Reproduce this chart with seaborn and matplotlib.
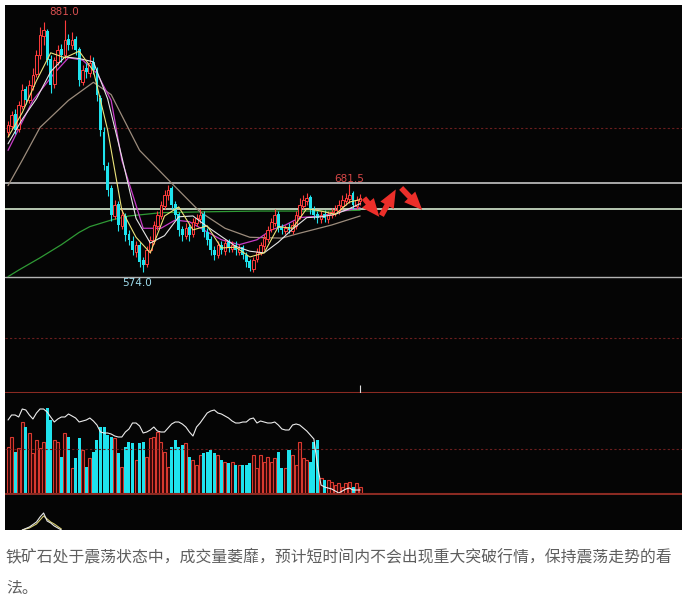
import numpy as np
import pandas as pd
import matplotlib
matplotlib.use("Agg")
import matplotlib.pyplot as plt
import seaborn as sns

# daily candles (price units)
OPEN = [745, 752, 766, 748, 776, 797, 784, 800, 815, 838,
        862, 868, 833, 803, 830, 846, 838, 858, 850, 858,
        846, 806, 822, 816, 830, 821, 786, 745, 703, 676,
        642, 656, 630, 642, 620, 612, 598, 606, 588, 584,
        601, 612, 630, 642, 654, 668, 676, 656, 644, 626,
        618, 628, 620, 634, 638, 645, 623, 614, 601, 595,
        607, 599, 610, 602, 607, 598, 604, 595, 587, 577,
        589, 597, 605, 614, 626, 634, 645, 628, 624, 628,
        624, 630, 642, 654, 660, 665, 650, 644, 638, 644,
        638, 643, 646, 648, 654, 660, 663, 670, 654, 660]
CLOSE = [753, 765, 747, 777, 796, 783, 802, 814, 838, 863,
         869, 832, 802, 832, 844, 838, 857, 851, 857, 844,
         808, 820, 817, 829, 820, 789, 747, 704, 674, 643,
         655, 631, 643, 619, 613, 600, 606, 586, 582, 600,
         613, 631, 643, 655, 668, 674, 655, 643, 625, 619,
         627, 619, 635, 639, 643, 622, 613, 600, 594, 606,
         600, 609, 603, 606, 600, 603, 594, 586, 578, 588,
         598, 606, 615, 625, 635, 643, 627, 625, 627, 625,
         631, 643, 655, 661, 664, 649, 643, 639, 643, 639,
         643, 647, 649, 655, 661, 664, 668, 655, 661, 664]
HIGH = [758, 770, 772, 782, 803, 800, 808, 822, 845, 872,
        878, 870, 838, 836, 850, 852, 881, 864, 866, 862,
        848, 826, 828, 838, 836, 824, 790, 750, 708, 680,
        662, 660, 650, 646, 625, 618, 612, 610, 592, 605,
        618, 636, 648, 660, 674, 680, 678, 660, 647, 630,
        633, 632, 640, 645, 650, 648, 627, 618, 605, 611,
        612, 614, 614, 611, 611, 608, 607, 598, 590, 592,
        603, 610, 620, 630, 640, 650, 648, 632, 631, 633,
        636, 648, 664, 668, 670, 668, 654, 648, 648, 649,
        648, 652, 655, 662, 668, 670, 681.5, 673, 666, 669]
LOW = [740, 748, 742, 744, 772, 778, 780, 796, 812, 834,
       850, 826, 792, 798, 826, 830, 834, 845, 846, 838,
       800, 802, 810, 812, 815, 782, 740, 698, 666, 636,
       638, 624, 626, 612, 606, 594, 592, 580, 574, 580,
       597, 608, 625, 638, 650, 662, 650, 638, 618, 612,
       614, 612, 616, 630, 634, 616, 606, 594, 588, 591,
       596, 595, 598, 598, 595, 594, 590, 580, 575, 574,
       586, 594, 601, 610, 622, 630, 622, 620, 620, 621,
       620, 626, 638, 650, 655, 644, 638, 633, 634, 635,
       634, 639, 642, 644, 650, 655, 658, 650, 650, 655]

# volume and open interest (panel units)
VOLUME = [48, 58, 43, 47, 73, 68, 62, 42, 55, 47,
          53, 87, 75, 55, 53, 38, 62, 58, 27, 37,
          57, 45, 28, 37, 43, 55, 68, 68, 60, 58,
          57, 42, 28, 48, 53, 52, 35, 52, 53, 38,
          57, 58, 63, 53, 43, 28, 48, 55, 48, 50,
          52, 38, 35, 30, 40, 42, 43, 45, 42, 40,
          35, 33, 32, 33, 30, 30, 30, 30, 32, 40,
          27, 40, 33, 38, 33, 37, 43, 27, 27, 45,
          40, 30, 53, 37, 35, 33, 53, 55, 17, 15,
          15, 13, 10, 12, 8, 12, 13, 8, 12, 8]
OPEN_INT = [75, 80, 80, 78, 86, 85, 80, 76, 82, 86,
            86, 83, 78, 73, 76, 78, 78, 81, 79, 77,
            73, 74, 75, 77, 74, 70, 63, 62, 62, 61,
            59, 58, 58, 63, 66, 72, 72, 69, 62, 63,
            65, 68, 64, 63, 63, 67, 71, 73, 73, 71,
            68, 63, 59, 68, 72, 77, 82, 84, 85, 82,
            81, 79, 77, 74, 72, 72, 73, 73, 76, 77,
            72, 74, 73, 72, 72, 73, 70, 66, 65, 65,
            70, 71, 70, 67, 64, 60, 56, 30, 10, 8,
            7, 6, 4, 2, 4, 6, 7, 5, 5, 5]

# moving averages (sampled along the candles)
MA_IDX = [0, 4, 8, 12, 16, 20, 24, 28, 32, 36, 40, 44, 48, 52, 56, 60, 64,
          68, 72, 76, 80, 84, 88, 92, 96, 99]
MA5 = [738, 768, 807, 841, 835, 843, 819, 747, 649, 616, 597, 642, 653,
       625, 630, 603, 604, 592, 597, 629, 627, 651, 648, 644, 659, 662]
MA10 = [730, 760, 785, 818, 836, 834, 830, 785, 714, 639, 609, 618, 641,
        642, 629, 617, 605, 599, 597, 610, 626, 640, 641, 644, 651, 657]
PINK_IDX = [0, 7, 13, 17, 21, 25, 29, 32, 36, 38, 43, 47, 51, 55, 60, 65,
            70, 74, 78, 82, 88, 93, 99]
PINK = [722, 783, 816, 835, 832, 816, 783, 710, 655, 627, 627, 637, 635,
        625, 613, 607, 613, 625, 631, 640, 642, 647, 652]
GRAY_IDX = [0, 4, 9, 17, 24, 29, 37, 46, 54, 61, 68, 77, 82, 91, 99]
GRAY = [679, 710, 750, 783, 805, 790, 722, 682, 647, 627, 616, 615, 621,
        631, 642]
GREEN_IDX = [0, 3, 9, 15, 20, 23, 29, 34, 43, 54, 71, 90, 99]
GREEN = [568, 576, 591, 607, 622, 629, 637, 642, 646, 647, 648, 648, 649]

# lower indicator fragment
IND_IDX = [4, 6, 8, 9, 10, 11, 12, 13, 15]
IND_WHITE = [0, 3, 8, 13, 17, 9, 7, 4, 0]
IND_YELLOW = [0, 2, 6, 10, 14, 11, 8, 6, 1]

LEVELS = [682.2, 650.5, 567.6]
DASH_LEVELS = [749, 493]

CAPTION_1 = "铁矿石处于震荡状态中，成交量萎靡，预计短时间内不会出现重大突破行情，保持震荡走势的看"
CAPTION_2 = "法。"

RED = "#ff3c3c"
CYAN = "#1fe3ee"
BG = "#050505"

sns.set_style("dark")
plt.rcParams["font.family"] = ["Noto Sans CJK SC", "DejaVu Sans"]

df = pd.DataFrame({"open": OPEN, "close": CLOSE, "high": HIGH, "low": LOW,
                   "vol": VOLUME, "oi": OPEN_INT})
df["idx"] = np.arange(len(df))
up = (df["close"] >= df["open"]).to_numpy()

fig = plt.figure(figsize=(6.88, 6.01), dpi=100)
fig.patch.set_facecolor("white")
W, H = 688, 601
ax = fig.add_axes([5 / W, (H - 393) / H, 677 / W, 388 / H])
ax_vol = fig.add_axes([5 / W, (H - 495) / H, 677 / W, 102 / H])
ax_ind = fig.add_axes([5 / W, (H - 530) / H, 677 / W, 35 / H])

XLIM = (-0.85, 189.5)
for a in (ax, ax_vol, ax_ind):
    a.set_facecolor(BG)
    a.set_xlim(*XLIM)
    a.set_xticks([])
    a.set_yticks([])
    for s in a.spines.values():
        s.set_visible(False)
    a.grid(False)

ax.set_ylim(426.1, 899.3)
ax_vol.set_ylim(0, 102)
ax_ind.set_ylim(0, 35)

# price panel: reference levels
ax.axhline(LEVELS[0], color="#c4c4c4", lw=1.2, zorder=1)
ax.axhline(LEVELS[1], color="#d6ead0", lw=1.2, zorder=1)
ax.axhline(LEVELS[2], color="#b4b4b4", lw=1.0, zorder=1)
for lv in DASH_LEVELS:
    ax.axhline(lv, color="#6a1e1e", lw=0.8, ls=(0, (2, 2)), zorder=1)
ax.axhline(426.1, color="#8a2a22", lw=1.5, zorder=1)

# moving averages
sns.lineplot(x=GREEN_IDX, y=GREEN, ax=ax, color="#2f9a35", lw=0.9, zorder=2)
sns.lineplot(x=GRAY_IDX, y=GRAY, ax=ax, color="#9c8c7c", lw=0.9, zorder=2)
sns.lineplot(x=PINK_IDX, y=PINK, ax=ax, color="#c83cc8", lw=0.9, zorder=2)

# candles
colors = np.where(up, RED, CYAN)
ax.vlines(df["idx"], df["low"], df["high"], colors=colors, lw=0.8, zorder=3)
body_lo = np.minimum(df["open"], df["close"])
body_h = np.maximum(np.abs(df["close"] - df["open"]), 0.8)
ax.bar(df["idx"][up], body_h[up], bottom=body_lo[up], width=0.75,
       facecolor=BG, edgecolor=RED, lw=0.7, zorder=4)
ax.bar(df["idx"][~up], body_h[~up], bottom=body_lo[~up], width=0.8,
       color=CYAN, lw=0, zorder=4)

sns.lineplot(x=MA_IDX, y=MA10, ax=ax, color="#e6e6e6", lw=0.8, zorder=5)
sns.lineplot(x=MA_IDX, y=MA5, ax=ax, color="#ece37a", lw=0.8, zorder=5)

ax.vlines(99, 426.1, 436, color="#dddddd", lw=0.8)

ax.text(15.8, 890.8, "881.0", color="#d85050", fontsize=7.5,
        ha="center", va="center", family="DejaVu Sans")
ax.text(36.3, 560, "574.0", color="#9fdcec", fontsize=7.5,
        ha="center", va="center", family="DejaVu Sans")
ax.text(95.9, 687, "681.5", color="#d84848", fontsize=7.5,
        ha="center", va="center", family="DejaVu Sans")

# hand-drawn style forecast arrows
arrow_kw = dict(arrowstyle="simple,head_length=1.3,head_width=1.1,tail_width=0.4",
                color="#ec2f2a", lw=0)
ax.annotate("", xy=(104.9, 638.3), xytext=(99.6, 666.4), arrowprops=arrow_kw)
ax.annotate("", xy=(109.4, 677.3), xytext=(104.6, 639.5), arrowprops=arrow_kw)
ax.annotate("", xy=(117.0, 646.9), xytext=(110.0, 678.6), arrowprops=arrow_kw)

# volume panel
ax_vol.axhline(46, color="#6a1e1e", lw=0.8, ls=(0, (2, 2)))
ax_vol.bar(df["idx"][up], df["vol"][up], width=0.85, facecolor="#2a0606",
           edgecolor="#d8392f", lw=0.8)
ax_vol.bar(df["idx"][~up], df["vol"][~up], width=0.85, color=CYAN, lw=0)
sns.lineplot(data=df, x="idx", y="oi", ax=ax_vol, color="#ececec", lw=0.8)
ax_vol.axhline(0.6, color="#8a2a22", lw=1.5)

# indicator panel
sns.lineplot(x=IND_IDX, y=IND_YELLOW, ax=ax_ind, color="#d8cf70", lw=0.8)
sns.lineplot(x=IND_IDX, y=IND_WHITE, ax=ax_ind, color="#e8e8e8", lw=0.8)

for a in (ax, ax_vol, ax_ind):
    a.set_xlabel("")
    a.set_ylabel("")

fig.text(6 / W, 1 - 557 / H, CAPTION_1, color="#5e5e5e", fontsize=11.4,
         ha="left", va="center")
fig.text(6 / W, 1 - 589 / H, CAPTION_2, color="#5e5e5e", fontsize=11.4,
         ha="left", va="center")

fig.savefig("out.png", dpi=100, facecolor="white")
